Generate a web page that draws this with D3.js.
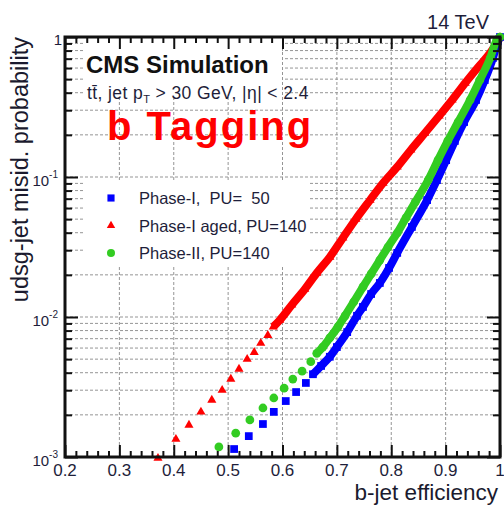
<!DOCTYPE html>
<html>
<head>
<meta charset="utf-8">
<script src="https://cdn.jsdelivr.net/npm/d3@7"></script>
<style>
  body { margin: 0; background: #fff; }
  text { font-family: "Liberation Sans", Arial, Helvetica, sans-serif; }
</style>
</head>
<body>
<div id="chart"></div>
<script>
// b-jet efficiency vs udsg mistag
var effPhase1 = [0.511, 0.538, 0.564, 0.584, 0.606, 0.625, 0.643, 0.656, 0.671, 0.687, 0.700, 0.719, 0.737, 0.748, 0.763, 0.779, 0.796, 0.811, 0.838, 0.866, 0.884, 0.901, 0.917, 0.934, 0.956, 0.972, 0.987, 0.996, 1.0];
var misPhase1 = [0.00114, 0.00141, 0.00172, 0.0021, 0.00251, 0.00291, 0.00338, 0.0039, 0.00447, 0.0052, 0.0061, 0.0078, 0.0102, 0.0118, 0.0146, 0.0175, 0.0224, 0.0287, 0.044, 0.0684, 0.095, 0.132, 0.181, 0.247, 0.355, 0.493, 0.708, 0.93, 1.0];

var effAged = [0.371, 0.404, 0.428, 0.450, 0.470, 0.489, 0.505, 0.520, 0.535, 0.548, 0.560, 0.573, 0.583, 0.595, 0.617, 0.641, 0.663, 0.687, 0.711, 0.735, 0.761, 0.785, 0.811, 0.836, 0.862, 0.888, 0.912, 0.936, 0.960, 0.982, 1.0];
var misAged = [0.00098, 0.00134, 0.00169, 0.0021, 0.00255, 0.0030, 0.0036, 0.00425, 0.0050, 0.0056, 0.0065, 0.0074, 0.0085, 0.0095, 0.0122, 0.0158, 0.0206, 0.0268, 0.0367, 0.0501, 0.0684, 0.0906, 0.118, 0.156, 0.206, 0.273, 0.355, 0.469, 0.61, 0.77, 0.99];

var effPhase2 = [0.483, 0.514, 0.540, 0.564, 0.584, 0.603, 0.619, 0.636, 0.652, 0.663, 0.674, 0.687, 0.702, 0.715, 0.731, 0.748, 0.763, 0.779, 0.794, 0.811, 0.827, 0.844, 0.868, 0.886, 0.904, 0.923, 0.945, 0.963, 0.982, 0.994, 1.0];
var misPhase2 = [0.00118, 0.00148, 0.00184, 0.00224, 0.00264, 0.0031, 0.0036, 0.0041, 0.0048, 0.0055, 0.0061, 0.0071, 0.0085, 0.0102, 0.0128, 0.0164, 0.0203, 0.0255, 0.0316, 0.0398, 0.051, 0.066, 0.095, 0.132, 0.181, 0.247, 0.355, 0.493, 0.708, 0.95, 1.0];

var seriesNames = ["Phase-I,  PU=  50", "Phase-I aged, PU=140", "Phase-II, PU=140"];

var xTicks = [0.2, 0.3, 0.4, 0.5, 0.6, 0.7, 0.8, 0.9, 1.0];
var xTickLabels = ["0.2", "0.3", "0.4", "0.5", "0.6", "0.7", "0.8", "0.9", "1"];
var yTicks = [1e-3, 1e-2, 1e-1, 1];
var yTickExp = ["-3", "-2", "-1", ""];

// scales: frame from (65,37) to (500,457)
var x = d3.scaleLinear().domain([0.2, 1.0]).range([65, 500]);
var y = d3.scaleLog().domain([1e-3, 1]).range([457, 37]);

var svg = d3.select("#chart").append("svg")
  .attr("width", 504)
  .attr("height", 505);

// minor tick positions
var xMinor = d3.range(0.22, 1.0, 0.02).filter(function(v) { return Math.abs(v * 10 - Math.round(v * 10)) > 0.01; });
var yMinor = [];
[1e-3, 1e-2, 1e-1].forEach(function(dec) {
  for (var k = 2; k <= 9; k++) yMinor.push(k * dec);
});
var yGrid = yMinor.concat([1e-2, 1e-1]);

// grid
svg.append("g").selectAll("line").data(yGrid).enter().append("line")
  .attr("x1", x(0.2)).attr("x2", x(1.0))
  .attr("y1", function(d) { return y(d); }).attr("y2", function(d) { return y(d); })
  .attr("stroke", "#959595").attr("stroke-width", 1).attr("stroke-dasharray", "3,2");
svg.append("g").selectAll("line").data(xTicks.slice(1, -1)).enter().append("line")
  .attr("x1", function(d) { return x(d); }).attr("x2", function(d) { return x(d); })
  .attr("y1", y(1)).attr("y2", y(1e-3))
  .attr("stroke", "#959595").attr("stroke-width", 1).attr("stroke-dasharray", "3,2");

// white boxes behind the labels and legend
svg.append("rect").attr("x", 83).attr("y", 39).attr("width", 199).attr("height", 58).attr("fill", "#fff");
svg.append("rect").attr("x", 84).attr("y", 181).attr("width", 226).attr("height", 84).attr("fill", "#fff");

// series
var series = [
  {name: seriesNames[1], eff: effAged, mis: misAged, color: "#ff0000", symbol: d3.symbolTriangle, size: 36, band: 12},
  {name: seriesNames[0], eff: effPhase1, mis: misPhase1, color: "#0000ff", symbol: d3.symbolSquare, size: 60, band: 7},
  {name: seriesNames[2], eff: effPhase2, mis: misPhase2, color: "#33cc22", symbol: d3.symbolCircle, size: 60, band: 9}
];

var line = d3.line()
  .x(function(d) { return x(d[0]); })
  .y(function(d) { return y(d[1]); })
  .curve(d3.curveMonotoneX);

series.forEach(function(s) {
  var pts = s.eff.map(function(e, i) { return [e, s.mis[i]]; });
  svg.append("path")
    .datum(pts.slice(s.band))
    .attr("d", line)
    .attr("fill", "none")
    .attr("stroke", s.color)
    .attr("stroke-width", 8)
    .attr("stroke-linejoin", "round");
  svg.append("g").selectAll("path").data(pts).enter().append("path")
    .attr("d", d3.symbol().type(s.symbol).size(s.size))
    .attr("transform", function(d) { return "translate(" + x(d[0]) + "," + y(d[1]) + ")"; })
    .attr("fill", s.color);
});

// axes ticks (inward on all four sides)
function strip(g) {
  g.select(".domain").remove();
  g.selectAll(".tick line").attr("stroke", "#111").attr("stroke-width", 2);
}
svg.append("g").attr("transform", "translate(0,457)")
  .call(d3.axisBottom(x).tickValues(xTicks).tickSize(-12).tickFormat("")).call(strip);
svg.append("g").attr("transform", "translate(0,457)")
  .call(d3.axisBottom(x).tickValues(xMinor).tickSize(-6).tickFormat("")).call(strip);
svg.append("g").attr("transform", "translate(0,37)")
  .call(d3.axisTop(x).tickValues(xTicks).tickSize(-12).tickFormat("")).call(strip);
svg.append("g").attr("transform", "translate(0,37)")
  .call(d3.axisTop(x).tickValues(xMinor).tickSize(-6).tickFormat("")).call(strip);
svg.append("g").attr("transform", "translate(65,0)")
  .call(d3.axisLeft(y).tickValues(yTicks).tickSize(-13).tickFormat("")).call(strip);
svg.append("g").attr("transform", "translate(65,0)")
  .call(d3.axisLeft(y).tickValues(yMinor).tickSize(-7).tickFormat("")).call(strip);
svg.append("g").attr("transform", "translate(500,0)")
  .call(d3.axisRight(y).tickValues(yTicks).tickSize(-13).tickFormat("")).call(strip);
svg.append("g").attr("transform", "translate(500,0)")
  .call(d3.axisRight(y).tickValues(yMinor).tickSize(-7).tickFormat("")).call(strip);

// frame
svg.append("rect")
  .attr("x", x(0.2)).attr("y", y(1))
  .attr("width", x(1.0) - x(0.2)).attr("height", y(1e-3) - y(1))
  .attr("fill", "none").attr("stroke", "#111").attr("stroke-width", 3);

// tick labels
svg.append("g").selectAll("text").data(xTicks).enter().append("text")
  .attr("x", function(d) { return x(d); })
  .attr("y", 476)
  .attr("text-anchor", "middle")
  .attr("font-size", "17px")
  .attr("fill", "#1e1e3a")
  .text(function(d, i) { return xTickLabels[i]; });

var yl = svg.append("g").selectAll("text").data(yTicks).enter().append("text")
  .attr("x", function(d, i) { return yTickExp[i] ? 58 : 62; })
  .attr("y", function(d, i) { return y(d) + (yTickExp[i] ? 9 : 8); })
  .attr("text-anchor", "end")
  .attr("font-size", "15px")
  .attr("fill", "#1e1e3a");
yl.append("tspan").text(function(d, i) { return yTickExp[i] ? "10" : "1"; });
yl.append("tspan").attr("font-size", "10px").attr("dy", -8)
  .text(function(d, i) { return yTickExp[i]; });

// axis titles
svg.append("text")
  .attr("x", 498).attr("y", 500)
  .attr("text-anchor", "end")
  .attr("font-size", "22.5px")
  .attr("fill", "#1a1a2e")
  .text("b-jet efficiency");
svg.append("text")
  .attr("transform", "translate(28,37) rotate(-90)")
  .attr("text-anchor", "end")
  .attr("font-size", "23.5px")
  .attr("fill", "#1a1a2e")
  .text("udsg-jet misid. probability");

// header texts
svg.append("text")
  .attr("x", 489).attr("y", 29)
  .attr("text-anchor", "end")
  .attr("font-size", "20px")
  .attr("fill", "#1e1e3a")
  .text("14 TeV");
svg.append("text")
  .attr("x", 86).attr("y", 73)
  .attr("font-size", "24px")
  .attr("font-weight", "bold")
  .attr("fill", "#111")
  .text("CMS Simulation");
var sub = svg.append("text")
  .attr("x", 87).attr("y", 99)
  .attr("font-size", "17.5px")
  .attr("letter-spacing", "0.4px")
  .attr("fill", "#1e1e3a");
sub.append("tspan").text("t\u0074\u0304, jet p");
sub.append("tspan").attr("font-size", "11px").attr("dy", 4).text("T");
sub.append("tspan").attr("dy", -4).text(" > 30 GeV, |\u03b7| < 2.4");
svg.append("text")
  .attr("x", 107).attr("y", 140)
  .attr("font-size", "40px")
  .attr("font-weight", "bold")
  .attr("letter-spacing", "2px")
  .attr("fill", "#ff0000")
  .text("b Tagging");

// legend
var legendOrder = [series[1], series[0], series[2]];
var lg = svg.selectAll(".lg").data(legendOrder).enter().append("g")
  .attr("class", "lg")
  .attr("transform", function(d, i) { return "translate(111," + (198 + i * 27.5) + ")"; });
lg.append("path")
  .attr("d", function(d) { return d3.symbol().type(d.symbol).size(d.size * 0.85)(); })
  .attr("fill", function(d) { return d.color; });
lg.append("text")
  .attr("x", 28).attr("y", 6)
  .attr("font-size", "16.5px")
  .attr("fill", "#1e1e3a")
  .style("white-space", "pre")
  .text(function(d) { return d.name; });
</script>
</body>
</html>
